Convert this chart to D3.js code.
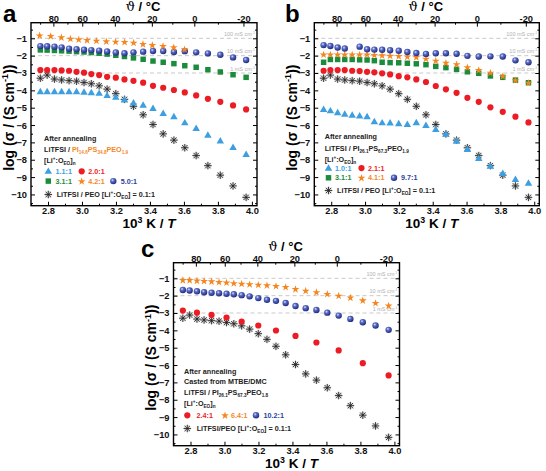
<!DOCTYPE html>
<html><head><meta charset="utf-8">
<script src="https://cdn.jsdelivr.net/npm/d3@7"></script>
<style>body{margin:0;background:#fff}svg{display:block;font-family:"Liberation Sans",Arial,sans-serif}</style>
</head><body>
<svg id="chart" width="546" height="471"></svg>
<script>
// ---------- data ----------
// 10^3 K / T positions of the measurement temperatures (90 °C ... -20 °C, 5 °C steps)
const xGrid = [2.755, 2.795, 2.838, 2.880, 2.924, 2.968, 3.012, 3.055, 3.101, 3.148, 3.199, 3.250, 3.303, 3.360, 3.418, 3.478, 3.541, 3.605, 3.672, 3.741, 3.814, 3.889, 3.966];
// LiTFSI / PEO reference (shown in every panel)
const peoRef = [-3.30, -3.12, -3.35, -3.40, -3.44, -3.47, -3.55, -3.62, -3.74, -3.93, -4.19, -4.52, -4.92, -5.41, -5.97, -6.51, -6.87, -7.31, -7.76, -8.34, -8.89, -9.51, -10.17];

// panel a
const aTri   = [-4.08, -4.08, -4.08, -4.08, -4.08, -4.08, -4.10, -4.13, -4.17, -4.30, -4.40, -4.55, -4.72, -4.86, -5.04, -5.33, -5.52, -5.87, -6.19, -6.58, -6.91, -7.29, -7.69];
const aRed   = [-2.83, -2.83, -2.83, -2.85, -2.87, -2.93, -2.98, -3.06, -3.12, -3.22, -3.27, -3.37, -3.45, -3.56, -3.74, -3.85, -3.98, -4.12, -4.29, -4.49, -4.66, -4.87, -5.10];
const aGreen = [-1.67, -1.68, -1.70, -1.72, -1.74, -1.77, -1.79, -1.82, -1.86, -1.91, -1.98, -2.05, -2.13, -2.21, -2.31, -2.38, -2.46, -2.58, -2.67, -2.81, -2.94, -3.10, -3.25];
const aBlue  = [-1.45, -1.46, -1.48, -1.52, -1.60, -1.63, -1.66, -1.68, -1.71, -1.76, -1.82, -1.86, -1.81, -1.77, -1.73, -1.73, -1.79, -1.74, -1.81, -1.87, -1.95, -2.10, -2.25];
const aStarX = [2.751, 2.816, 2.879, 2.932, 2.981, 3.030, 3.085, 3.143, 3.198, 3.251, 3.304, 3.359, 3.414, 3.477, 3.540, 3.604];
const aStar  = [-0.83, -0.87, -0.94, -1.02, -1.06, -1.10, -1.14, -1.17, -1.19, -1.21, -1.25, -1.33, -1.39, -1.44, -1.52, -1.63];

// panel b
const bTri   = [-5.10, -5.18, -5.29, -5.37, -5.43, -5.47, -5.52, -5.81, -5.87, -5.88, -5.92, -5.97, -5.86, -6.02, -6.25, -6.53, -6.93, -7.41, -7.92, -8.38, -8.79, -9.13, -9.35];
const bRed   = [-2.87, -2.83, -2.83, -2.83, -2.87, -2.89, -2.93, -2.96, -3.02, -3.08, -3.18, -3.25, -3.37, -3.52, -3.75, -3.94, -4.14, -4.43, -4.66, -4.98, -5.24, -5.52, -5.85];
const bGreen = [-2.38, -2.22, -2.22, -2.22, -2.22, -2.24, -2.25, -2.29, -2.38, -2.40, -2.41, -2.44, -2.47, -2.52, -2.62, -2.69, -2.79, -2.93, -3.02, -3.17, -3.25, -3.41, -3.56];
const bStar  = [-1.93, -1.93, -1.93, -1.93, -1.93, -1.93, -1.93, -1.96, -1.98, -2.00, -2.02, -2.05, -2.08, -2.17, -2.29, -2.41, -2.50, -2.67, -2.83, -2.98, -3.18, -3.41, -3.56];
const bBlue  = [-1.39, -1.44, -1.53, -1.59, null, -1.48, -1.63, -1.65, -1.66, -1.69, -1.72, -1.79, -1.85, -1.90, -1.86, -1.86, -1.89, -2.01, -2.05, -2.04, -2.05, -2.27, -2.38];

// panel c
const cRed   = [-2.86, null, -2.98, null, -3.11, null, -3.26, null, -3.49, null, -3.72, null, -4.01, null, -4.32, null, -4.70, null, -5.16, null, -5.89, null, -6.60];
const cStar  = [-1.10, -1.10, -1.13, -1.15, -1.17, -1.21, -1.24, -1.28, -1.31, -1.34, -1.37, -1.40, -1.44, -1.50, -1.62, -1.71, -1.80, -1.90, -2.00, -2.11, -2.27, -2.42, -2.57];
const cBlue  = [-1.67, -1.70, -1.75, -1.80, -1.83, -1.86, -1.89, -1.92, -1.97, -2.04, -2.14, -2.24, -2.30, -2.42, -2.60, -2.72, -2.82, -2.98, -3.15, -3.34, -3.53, -3.72, -3.97];

// ticks / labels
const xTicks = [2.8, 3.0, 3.2, 3.4, 3.6, 3.8, 4.0];
const xMinor = [2.7, 2.9, 3.1, 3.3, 3.5, 3.7, 3.9];
const yTicks = [-1, -2, -3, -4, -5, -6, -7, -8, -9, -10];
const yMinor = [-0.5, -1.5, -2.5, -3.5, -4.5, -5.5, -6.5, -7.5, -8.5, -9.5, -10.5];
const tTicks = [80, 60, 40, 20, 0, -20];
const tMinor = [90, 70, 50, 30, 10, -10];
const refLevels = [-1, -2, -3];
const refLabels = ["100 mS cm", "10 mS cm", "1 mS cm"];

// ---------- drawing ----------
const COL = {tri:"#3d9fe0", red:"#ec1c24", green:"#1a8c3c", star:"#f5861f", blue:"#2e3f9c", peo:"#222"};
const svg = d3.select("#chart");
const defs = svg.append("defs");
const grad = defs.append("radialGradient").attr("id","sph").attr("cx","38%").attr("cy","35%").attr("r","65%");
grad.append("stop").attr("offset","0%").attr("stop-color","#dfe4f7");
grad.append("stop").attr("offset","35%").attr("stop-color","#5b6dc8");
grad.append("stop").attr("offset","100%").attr("stop-color","#1f2b80");

function marker(g, type, cx, cy){
  if(type==="tri"){
    g.append("path").attr("d", d3.symbol(d3.symbolTriangle, 24)()).attr("transform",`translate(${cx},${cy+0.4})`).attr("fill",COL.tri);
  } else if(type==="red"){
    g.append("circle").attr("cx",cx).attr("cy",cy).attr("r",3.1).attr("fill",COL.red);
  } else if(type==="green"){
    g.append("path").attr("d", d3.symbol(d3.symbolSquare, 30)()).attr("transform",`translate(${cx},${cy})`).attr("fill",COL.green);
  } else if(type==="star"){
    g.append("path").attr("d", d3.symbol(d3.symbolStar, 19)()).attr("transform",`translate(${cx},${cy+0.3})`).attr("fill",COL.star);
  } else if(type==="blue"){
    g.append("circle").attr("cx",cx).attr("cy",cy).attr("r",3.2).attr("fill","url(#sph)");
  } else if(type==="peo"){
    const m = g.append("g").attr("transform",`translate(${cx},${cy})`);
    m.append("circle").attr("r",3.5).attr("fill","#bdbdbd").attr("opacity",0.55);
    [0,45,90,135].forEach(a=>{
      const r = a*Math.PI/180, L = 3.8;
      m.append("line").attr("x1",-L*Math.cos(r)).attr("y1",-L*Math.sin(r)).attr("x2",L*Math.cos(r)).attr("y2",L*Math.sin(r))
        .attr("stroke",COL.peo).attr("stroke-width",0.85);
    });
  }
}

function rich(sel, parts, size){
  let cur = 0;
  parts.forEach(p=>{
    const txt = p[0], kind = p[1], color = p[2], italic = p[3];
    const shift = kind==="sub" ? size*0.28 : kind==="sup" ? -size*0.38 : 0;
    const t = sel.append("tspan").attr("dy", (shift-cur).toFixed(2)).attr("font-size", kind ? size*0.65 : size).text(txt);
    if(color) t.attr("fill", color);
    if(italic) t.attr("font-style","italic");
    cur = shift;
  });
}

function panel(cfg){
  const g = svg.append("g");
  const x = d3.scaleLinear().domain([2.7, 4.03]).range([cfg.l, cfg.l+cfg.w]);
  const y = d3.scaleLinear().domain([-0.1, -10.65]).range([cfg.t, cfg.t+cfg.h]);
  const bottom = cfg.t+cfg.h, right = cfg.l+cfg.w;

  // reference conductivity lines
  refLevels.forEach((v,i)=>{
    g.append("line").attr("x1",cfg.l).attr("x2",right).attr("y1",y(v)).attr("y2",y(v))
      .attr("stroke","#bbbbbb").attr("stroke-width",0.8).attr("stroke-dasharray","4,3");
    const t = g.append("text").attr("x",right-2).attr("y",y(v)-2.2).attr("text-anchor","end")
      .attr("fill","#b0b0b0").attr("font-size",5.5);
    rich(t, [[refLabels[i]],["-1","sup"]], 5.5);
  });

  // axes
  const tickStyle = s => { s.select(".domain").remove(); s.selectAll("line").attr("stroke","#000").attr("stroke-width",1);
    s.selectAll("text").attr("font-family","Liberation Sans, Arial, sans-serif").attr("font-weight","bold").attr("font-size",9.3).attr("fill","#111"); };
  g.append("g").attr("transform",`translate(0,${bottom})`).call(d3.axisBottom(x).tickValues(xTicks).tickSize(-4).tickPadding(1.2).tickFormat(d3.format(".1f"))).call(tickStyle);
  g.append("g").attr("transform",`translate(0,${bottom})`).call(d3.axisBottom(x).tickValues(xMinor).tickSize(-2).tickFormat("")).call(tickStyle);
  g.append("g").attr("transform",`translate(${cfg.l},0)`).call(d3.axisLeft(y).tickValues(yTicks).tickSize(-4).tickPadding(4).tickFormat(d3.format("d"))).call(tickStyle);
  g.append("g").attr("transform",`translate(${cfg.l},0)`).call(d3.axisLeft(y).tickValues(yMinor).tickSize(-2).tickFormat("")).call(tickStyle);
  g.append("g").attr("transform",`translate(${right},0)`).call(d3.axisRight(y).tickValues(yTicks).tickSize(-4).tickFormat("")).call(tickStyle);
  g.append("g").attr("transform",`translate(${right},0)`).call(d3.axisRight(y).tickValues(yMinor).tickSize(-2).tickFormat("")).call(tickStyle);
  const toInv = t => 1000/(t+273.15);
  g.append("g").attr("transform",`translate(0,${cfg.t})`).call(d3.axisTop(x).tickValues(tTicks.map(toInv)).tickSize(-4).tickPadding(1.2)
     .tickFormat((d,i)=>String(tTicks[i]))).call(tickStyle);
  g.append("g").attr("transform",`translate(0,${cfg.t})`).call(d3.axisTop(x).tickValues(tMinor.map(toInv)).tickSize(-2).tickFormat("")).call(tickStyle);

  // frame
  g.append("rect").attr("x",cfg.l).attr("y",cfg.t).attr("width",cfg.w).attr("height",cfg.h)
    .attr("fill","none").attr("stroke","#000").attr("stroke-width",1.4);

  // data
  const mk = g.append("g");
  cfg.series.forEach(s=>{
    s.vals.forEach((v,i)=>{ if(v!==null) marker(mk, s.type, x(s.xs[i]), y(v)); });
  });

  // axis titles
  const cx = (cfg.l+right)/2;
  const tt = g.append("text").attr("x",cx-1).attr("y",cfg.t-12).attr("text-anchor","middle").attr("font-size",13).attr("font-weight","bold");
  tt.append("tspan").attr("font-family","DejaVu Serif, serif").attr("font-weight","normal").text("\u03D1");
  tt.append("tspan").text(" / °C");
  const bt = g.append("text").attr("x",cx+5).attr("y",bottom+22.2).attr("text-anchor","middle").attr("font-size",13.5).attr("font-weight","bold");
  rich(bt, [["10"],["3","sup"],[" K / "],["T",null,null,true]], 13.5);
  const yt = g.append("text").attr("transform",`translate(${cfg.l-17.5},${cfg.t+95}) rotate(-90)`).attr("text-anchor","middle").attr("font-size",14).attr("font-weight","bold");
  rich(yt, [["log (\u03C3 / (S cm"],["-1","sup"],["))"]], 14);
  g.append("text").attr("x",cfg.lx).attr("y",cfg.ly).attr("font-size",24).attr("font-weight","bold").text(cfg.letter);

  // legend
  const lg = g.append("g").attr("font-weight","bold");
  const fs = 7.2;
  cfg.legendLines.forEach(L=>{
    const t = lg.append("text").attr("x",L.x).attr("y",L.y).attr("font-size",fs).attr("fill","#222");
    rich(t, L.parts, fs);
  });
  cfg.legendItems.forEach(it=>{
    marker(lg, it.type, it.mx, it.y-2.5);
    const t = lg.append("text").attr("x",it.tx).attr("y",it.y).attr("font-size",fs).attr("fill", it.color||"#222");
    rich(t, it.parts, fs);
  });
}

const li = [["[Li"],["+","sup"],[":O"],["EO","sub"],["]"],["n","sub"]];
const peoLabel = (sep)=>[["LiTFSI"+sep+"PEO [Li"],["+","sup"],[":O"],["EO","sub"],["] = 0.1:1"]];

panel({l:31, t:22.7, w:226, h:183, letter:"a", lx:3, ly:22,
  series:[
    {type:"peo", xs:xGrid, vals:peoRef},
    {type:"tri", xs:xGrid, vals:aTri},
    {type:"red", xs:xGrid, vals:aRed},
    {type:"green", xs:xGrid, vals:aGreen},
    {type:"blue", xs:xGrid, vals:aBlue},
    {type:"star", xs:aStarX, vals:aStar}],
  legendLines:[
    {x:44, y:140.8, parts:[["After annealing"]]},
    {x:44, y:152, parts:[["LiTFSI / "],["PI","", COL.star],["14.6","sub",COL.star],["PS",null,COL.star],["34.8","sub",COL.star],["PEO",null,COL.star],["1.9","sub",COL.star]]},
    {x:44, y:163.2, parts:li}],
  legendItems:[
    {type:"tri", mx:48.3, tx:55.5, y:173.8, color:COL.tri, parts:[["1.1:1"]]},
    {type:"red", mx:81.7, tx:88.3, y:173.8, color:COL.red, parts:[["2.0:1"]]},
    {type:"green", mx:48.3, tx:55.5, y:183.6, color:COL.green, parts:[["3.1:1"]]},
    {type:"star", mx:81.7, tx:88.3, y:183.6, color:COL.star, parts:[["4.2:1"]]},
    {type:"blue", mx:113.3, tx:120.7, y:183.6, color:COL.blue, parts:[["5.0:1"]]},
    {type:"peo", mx:48.3, tx:56.7, y:197, parts:peoLabel(" / ")}]
});

panel({l:314.3, t:22.7, w:225, h:183, letter:"b", lx:285, ly:22,
  series:[
    {type:"peo", xs:xGrid, vals:peoRef},
    {type:"tri", xs:xGrid, vals:bTri},
    {type:"red", xs:xGrid, vals:bRed},
    {type:"green", xs:xGrid, vals:bGreen},
    {type:"star", xs:xGrid, vals:bStar},
    {type:"blue", xs:xGrid, vals:bBlue}],
  legendLines:[
    {x:324.7, y:139, parts:[["After annealing"]]},
    {x:324.7, y:150.6, parts:[["LiTFSI / PI"],["26.1","sub"],["PS"],["67.3","sub"],["PEO"],["1.9","sub"]]},
    {x:324.7, y:161.8, parts:li}],
  legendItems:[
    {type:"tri", mx:328.5, tx:335, y:170.6, color:COL.tri, parts:[["1.0:1"]]},
    {type:"red", mx:361.5, tx:368, y:170.6, color:COL.red, parts:[["2.1:1"]]},
    {type:"green", mx:328.5, tx:335, y:180.3, color:COL.green, parts:[["3.1:1"]]},
    {type:"star", mx:361.5, tx:368, y:180.3, color:COL.star, parts:[["4.1:1"]]},
    {type:"blue", mx:394, tx:401, y:180.3, color:COL.blue, parts:[["9.7:1"]]},
    {type:"peo", mx:328.5, tx:337, y:193, parts:peoLabel(" / ")}]
});

panel({l:173.5, t:262.7, w:226, h:183, letter:"c", lx:141, ly:257,
  series:[
    {type:"peo", xs:xGrid, vals:peoRef},
    {type:"red", xs:xGrid, vals:cRed},
    {type:"blue", xs:xGrid, vals:cBlue},
    {type:"star", xs:xGrid, vals:cStar}],
  legendLines:[
    {x:184, y:374, parts:[["After annealing"]]},
    {x:184, y:384, parts:[["Casted from MTBE/DMC"]]},
    {x:184, y:394.8, parts:[["LiTFSI / PI"],["26.1","sub"],["PS"],["67.3","sub"],["PEO"],["1.8","sub"]]},
    {x:184, y:406, parts:li}],
  legendItems:[
    {type:"red", mx:187.3, tx:196.5, y:417.8, color:COL.red, parts:[["2.4:1"]]},
    {type:"star", mx:225, tx:231, y:417.8, color:COL.star, parts:[["6.4:1"]]},
    {type:"blue", mx:256, tx:263.5, y:417.8, color:COL.blue, parts:[["10.2:1"]]},
    {type:"peo", mx:187.3, tx:196.7, y:431, parts:peoLabel("/")}]
});
</script>
</body></html>
